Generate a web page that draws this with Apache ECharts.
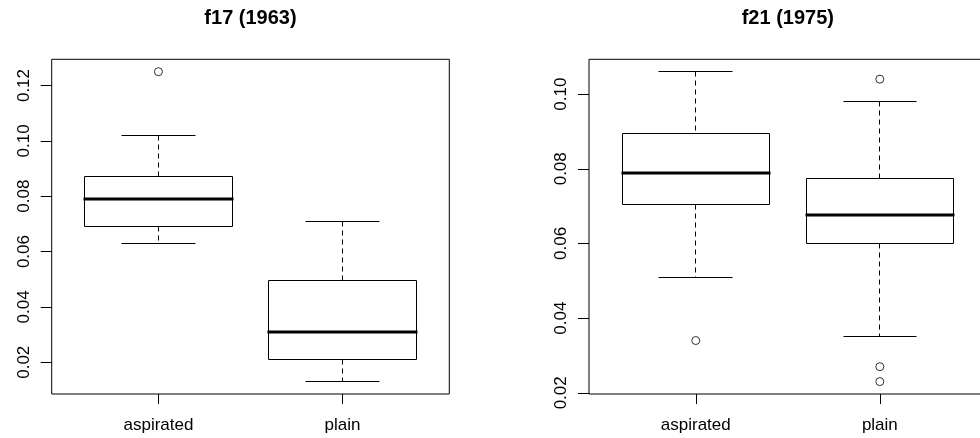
<!DOCTYPE html>
<html>
<head>
<meta charset="utf-8">
<script src="https://cdn.jsdelivr.net/npm/echarts@6/dist/echarts.min.js"></script>
<style>
  html, body { margin: 0; padding: 0; background: #fff; overflow: hidden; }
  /* the canvas is a little wider than the window so the right plot frame sits just out of view */
  #chart { width: 990px; height: 438px; }
</style>
</head>
<body>
<div id="chart"></div>
<script>
// Group names along the x axis
const groups = ['aspirated', 'plain'];
const panelTitles = ['f17 (1963)', 'f21 (1975)'];

// Five-number summaries: [lower whisker, Q1, median, Q3, upper whisker]
const f17Aspirated = [0.063, 0.069, 0.079, 0.087, 0.102];
const f17Plain     = [0.013, 0.0211, 0.031, 0.0496, 0.071];
const f21Aspirated = [0.051, 0.0705, 0.079, 0.0894, 0.106];
const f21Plain     = [0.035, 0.0601, 0.0676, 0.0775, 0.098];

// Points beyond the whiskers
const f17AspiratedOut = [0.125];
const f17PlainOut     = [];
const f21AspiratedOut = [0.034];
const f21PlainOut     = [0.104, 0.027, 0.023];

// Y tick values for each panel
const f17Ticks = [0.02, 0.04, 0.06, 0.08, 0.10, 0.12];
const f21Ticks = [0.02, 0.04, 0.06, 0.08, 0.10];

const FONT = 'Liberation Sans, Arial, sans-serif';

// Plot regions (px)
const panels = [
  { left: 51.7, top: 59.3, width: 397.6, height: 334.7 },
  { left: 589.0, top: 59.3, width: 397.6, height: 334.7 }
];

// Axis range padded by 4% like base graphics
function paddedRange(values) {
  const lo = Math.min.apply(null, values), hi = Math.max.apply(null, values);
  const pad = (hi - lo) * 0.04;
  return [lo - pad, hi + pad];
}
const xRange = [0.5 - 0.08, 2.5 + 0.08];

const r17 = paddedRange([].concat(f17Aspirated, f17Plain, f17AspiratedOut, f17PlainOut));
const r21 = paddedRange([].concat(f21Aspirated, f21Plain, f21AspiratedOut, f21PlainOut));

function crisp(v) { return Math.round(v - 0.5) + 0.5; }

function renderBox(params, api) {
  const x = api.value(0);
  const lo = api.value(1), q1 = api.value(2), med = api.value(3), q3 = api.value(4), hi = api.value(5);
  const cx = crisp(api.coord([x, med])[0]);
  const bl = crisp(api.coord([x - 0.4, med])[0]);
  const br = crisp(api.coord([x + 0.4, med])[0]);
  const cl = crisp(api.coord([x - 0.2, med])[0]);
  const cr = crisp(api.coord([x + 0.2, med])[0]);
  const yLo = crisp(api.coord([x, lo])[1]);
  const yQ1 = crisp(api.coord([x, q1])[1]);
  const yMed = Math.round(api.coord([x, med])[1]);
  const yQ3 = crisp(api.coord([x, q3])[1]);
  const yHi = crisp(api.coord([x, hi])[1]);
  const thin = { stroke: '#000', lineWidth: 1, fill: null };
  const dashed = { stroke: '#000', lineWidth: 1, lineDash: [5, 4], fill: null };
  return {
    type: 'group',
    children: [
      { type: 'line', shape: { x1: cx, y1: yHi, x2: cx, y2: yQ3 }, style: dashed },
      { type: 'line', shape: { x1: cx, y1: yQ1, x2: cx, y2: yLo }, style: dashed },
      { type: 'line', shape: { x1: cl, y1: yHi, x2: cr, y2: yHi }, style: thin },
      { type: 'line', shape: { x1: cl, y1: yLo, x2: cr, y2: yLo }, style: thin },
      { type: 'rect', shape: { x: bl, y: yQ3, width: br - bl, height: yQ1 - yQ3 },
        style: { stroke: '#000', lineWidth: 1, fill: '#fff' } },
      { type: 'line', shape: { x1: bl - 1, y1: yMed, x2: br + 1, y2: yMed },
        style: { stroke: '#000', lineWidth: 3 } }
    ]
  };
}

function boxData(a, b) {
  return [[1].concat(a), [2].concat(b)];
}
function outData(a, b) {
  return a.map(v => [1, v]).concat(b.map(v => [2, v]));
}

const xAxisBase = {
  type: 'value',
  min: xRange[0],
  max: xRange[1],
  axisLine: { show: false },
  splitLine: { show: false },
  axisTick: { show: true, length: 10, customValues: [1, 2], lineStyle: { color: '#000', width: 1 } },
  axisLabel: {
    customValues: [1, 2],
    formatter: v => groups[Math.round(v) - 1],
    fontSize: 17, fontFamily: FONT, color: '#000', margin: 23
  }
};

function yAxisFor(range, ticks, idx) {
  return {
    type: 'value',
    gridIndex: idx,
    min: range[0],
    max: range[1],
    axisLine: { show: false },
    splitLine: { show: false },
    axisTick: { show: true, length: 11, customValues: ticks, lineStyle: { color: '#000', width: 1 } },
    axisLabel: {
      customValues: ticks,
      rotate: 90,
      formatter: v => v.toFixed(2),
      fontSize: 17, fontFamily: FONT, color: '#000', margin: 19
    }
  };
}

const chart = echarts.init(document.getElementById('chart'), null, { renderer: 'canvas' });

chart.setOption({
  animation: false,
  backgroundColor: '#fff',
  title: panelTitles.map((t, i) => ({
    text: t,
    left: panels[i].left + panels[i].width / 2,
    top: 8,
    textAlign: 'center',
    padding: 0,
    textStyle: { fontSize: 20, fontWeight: 'bold', fontFamily: FONT, color: '#000' }
  })),
  grid: panels.map(p => ({
    left: p.left, top: p.top, width: p.width, height: p.height,
    show: true, borderColor: '#000', borderWidth: 1, backgroundColor: 'transparent'
  })),
  xAxis: [
    Object.assign({ gridIndex: 0 }, xAxisBase),
    Object.assign({ gridIndex: 1 }, xAxisBase)
  ],
  yAxis: [
    yAxisFor(r17, f17Ticks, 0),
    yAxisFor(r21, f21Ticks, 1)
  ],
  series: [
    {
      type: 'custom', xAxisIndex: 0, yAxisIndex: 0,
      renderItem: renderBox,
      encode: { x: 0, y: [1, 2, 3, 4, 5] },
      data: boxData(f17Aspirated, f17Plain)
    },
    {
      type: 'custom', xAxisIndex: 1, yAxisIndex: 1,
      renderItem: renderBox,
      encode: { x: 0, y: [1, 2, 3, 4, 5] },
      data: boxData(f21Aspirated, f21Plain)
    },
    {
      type: 'scatter', xAxisIndex: 0, yAxisIndex: 0,
      symbol: 'circle', symbolSize: 8,
      itemStyle: { color: '#fff', borderColor: '#000', borderWidth: 1 },
      data: outData(f17AspiratedOut, f17PlainOut)
    },
    {
      type: 'scatter', xAxisIndex: 1, yAxisIndex: 1,
      symbol: 'circle', symbolSize: 8,
      itemStyle: { color: '#fff', borderColor: '#000', borderWidth: 1 },
      data: outData(f21AspiratedOut, f21PlainOut)
    }
  ]
});
</script>
</body>
</html>
